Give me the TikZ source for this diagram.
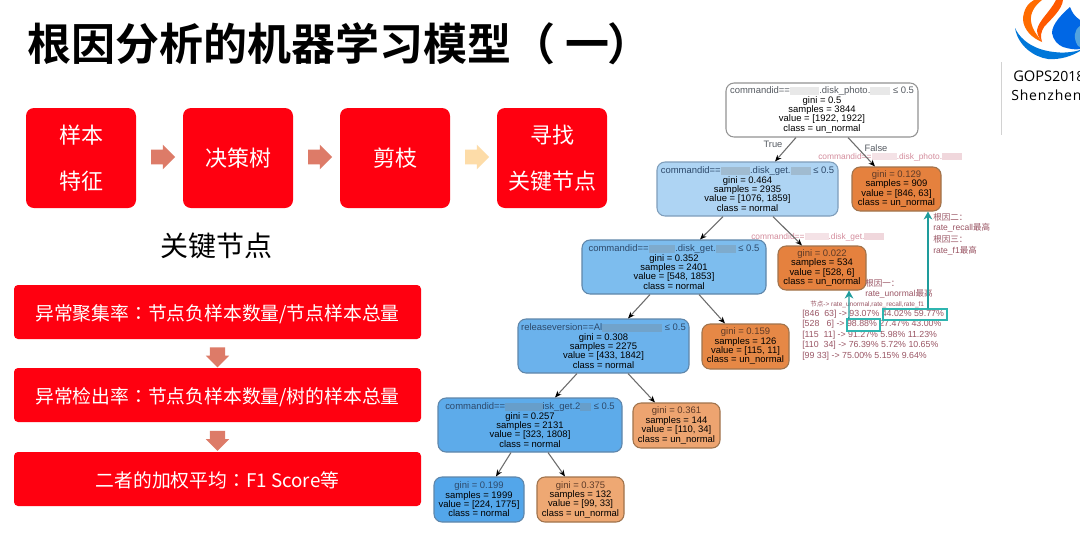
\documentclass[tikz,border=0pt]{standalone}
\usepackage{fontspec}
\setmainfont{Liberation Sans}
\newfontfamily\cjk{Noto Sans CJK SC}
\newfontfamily\cjktc{Noto Sans CJK TC}
\newfontfamily\cjkb{Noto Sans CJK SC}[BoldFont={Noto Sans CJK SC Bold}]
\newfontfamily\logofont{Open Sans}
\newfontfamily\logowide{Open Sans}[LetterSpace=6]
\usetikzlibrary{calc,arrows.meta,shapes.arrows}
\definecolor{redbox}{HTML}{FF0010}
\definecolor{arrowred}{HTML}{DD7B68}
\definecolor{arrowpale}{HTML}{FDDCA8}
\definecolor{blueink}{HTML}{2E4A6B}
\definecolor{orangeink}{HTML}{5E3B28}
\definecolor{whiteink}{HTML}{565B62}
\definecolor{annot}{HTML}{9A5564}
\definecolor{annotpale}{HTML}{D48C9C}
\definecolor{tealbox}{HTML}{2FB5B0}
\definecolor{tealarrow}{HTML}{1E9C9C}
\definecolor{fillA}{HTML}{AED4F3}
\definecolor{fillB}{HTML}{7DBDEE}
\definecolor{fillC}{HTML}{6BB2EC}
\definecolor{fillD}{HTML}{5DABEA}
\definecolor{fillE}{HTML}{53A6EA}
\definecolor{orangeA}{HTML}{E5813E}
\definecolor{orangeB}{HTML}{E68846}
\definecolor{orangeC}{HTML}{EDA470}
\definecolor{orangeD}{HTML}{EEA873}
\definecolor{edgeblue}{HTML}{5F86AA}
\definecolor{edgeorange}{HTML}{A0734C}
\newcommand{\smudge}[2]{\textcolor{#2}{\rule[-0.1em]{#1}{0.85em}}}
\tikzset{
  x=0.75pt,y=-0.75pt,
  redstep/.style={fill=redbox,rounded corners=6pt,text=white,align=center,inner sep=0pt,
     minimum width=82.5pt,minimum height=75pt,font=\cjk\fontsize{16.5}{34.5}\selectfont},
  redbar/.style={fill=redbox,rounded corners=3pt,text=white,align=center,inner sep=0pt,
     minimum width=305.25pt,minimum height=40.5pt,text height=13pt,text depth=0pt,
     font=\cjk\fontsize{14.1}{16}\selectfont},
  treebox/.style={draw=#1,line width=0.8pt,rounded corners=6pt,inner sep=0pt,align=center,
     font=\fontsize{7.1}{7}\selectfont},
  edge/.style={draw=gray!85!black,line width=0.8pt,-{Stealth[length=5pt,width=4pt,black]}},
  annotline/.style={anchor=west,inner sep=0pt,text=annot,font=\fontsize{6.6}{7}\selectfont},
  annotcjk/.style={anchor=west,inner sep=0pt,text=annot,font=\fontsize{6.4}{7}\selectfont},
  annotpink/.style={anchor=west,inner sep=0pt,text=annotpale,font=\fontsize{6.3}{7}\selectfont},
  edgelabel/.style={inner sep=0pt,text=whiteink,font=\fontsize{7}{7}\selectfont},
  tealframe/.style={draw=tealbox,line width=0.9pt,inner sep=0pt},
  tealup/.style={draw=tealarrow,-{Stealth[length=6pt,width=6.5pt]}},
  flowarrow/.style={single arrow,draw=none,fill=#1,inner sep=0pt,minimum height=18pt,
     single arrow head extend=3.75pt,single arrow head indent=0pt},
  downarrow/.style={single arrow,draw=none,fill=arrowred,inner sep=0pt,minimum height=15pt,
     rotate=-90,single arrow head extend=3pt,single arrow head indent=0pt},
}
\newcommand{\boxat}[8]{% name, x1, y1, x2, y2, fill, border, text
  \node[treebox=#7,fill=#6,minimum width={(#4-#2)*0.75pt},minimum height={(#5-#3)*0.75pt}]
     (#1) at ({(#2+#4)/2},{(#3+#5)/2}) {#8};}
\newcommand{\treeedge}[4]{\draw[edge] ([xshift=#2*0.75pt]#1.south) -- ([xshift=#4*0.75pt]#3.north);}
\begin{document}
\begin{tikzpicture}
\useasboundingbox[fill=white] (0,0) rectangle (1080,536);
% title
\node[anchor=west,inner sep=0pt,font=\cjkb\bfseries\fontsize{33}{36}\selectfont] (title) at (27,44) {根因分析的机器学习模型（ 一 \kern-9pt）};
% logo
\fill[orange!85!red] (1023,20) .. controls (1023,10) and (1028,3) .. (1034,0) -- (1042,0)
   .. controls (1034,6) and (1030,14) .. (1031,21) .. controls (1032,30) and (1038,36) .. (1042,42)
   .. controls (1032,38) and (1024,30) .. (1023,20) -- cycle;
\fill[orange!70!red] (1037,30) .. controls (1039,20) and (1050,12) .. (1056,0) -- (1063,0)
   .. controls (1062,10) and (1050,20) .. (1044,27) .. controls (1041,32) and (1040,36) .. (1042,42)
   .. controls (1039,38) and (1037,34) .. (1037,30) -- cycle;
\fill[blue!55!cyan!90!black] (1070,7) .. controls (1062,14) and (1052,24) .. (1052,33)
   .. controls (1053,40) and (1058,45) .. (1063,47) .. controls (1070,49) and (1075,50) .. (1080,49)
   -- (1080,20) .. controls (1074,16) and (1072,12) .. (1070,7) -- cycle;
\fill[cyan!70!blue!70!white] (1080,26) .. controls (1074,30) and (1073,38) .. (1078,46) -- (1080,47) -- cycle;
\fill[blue!45!cyan!85!black] (1015,28) .. controls (1018,46) and (1034,57) .. (1048,59)
   .. controls (1060,60) and (1072,56) .. (1080,51) -- (1080,50)
   .. controls (1068,54) and (1052,53) .. (1040,49) .. controls (1028,45) and (1019,37) .. (1015,28) -- cycle;
\draw[gray!35,line width=0.7pt] (1001,62) -- (1001,135);
\node[anchor=west,inner sep=0pt,font=\logofont\fontsize{11}{12}\selectfont] (gops) at (1013,76) {GOPS\fontsize{10.5}{12}\selectfont 2018};
\node[anchor=west,inner sep=0pt,font=\logowide\fontsize{10.5}{12}\selectfont] (szh) at (1011,95) {Shenzhen};
% top flow
\node[redstep] (s1) at (81,158) {样本\\特征};
\node[redstep] (s2) at (238,158) {决策树};
\node[redstep] (s3) at (395,158) {剪枝};
\node[redstep] (s4) at (552,158) {寻找\\关键节点};
\node[flowarrow=arrowred,yshift=0.75pt] (a1) at ($(s1.east)!0.5!(s2.west)$) {\rule{0pt}{10.5pt}};
\node[flowarrow=arrowred,yshift=0.75pt] (a2) at ($(s2.east)!0.5!(s3.west)$) {\rule{0pt}{10.5pt}};
\node[flowarrow=arrowpale,yshift=0.75pt] (a3) at ($(s3.east)!0.5!(s4.west)$) {\rule{0pt}{10.5pt}};
\node[inner sep=0pt,font=\cjk\fontsize{21}{24}\selectfont] (kn) at (216.5,246) {关键节点};
% lower bars
\node[redbar] (b1) at (217.5,312) {异常聚集率{\cjktc ：}节点负样本数量/节点样本总量};
\node[redbar] (b2) at (217.5,395) {异常检出率{\cjktc ：}节点负样本数量/树的样本总量};
\node[redbar] (b3) at (217.5,479) {二者的加权平均{\cjktc ：}F1 Score等};
\node[downarrow] (d1) at ($(b1.south)!0.5!(b2.north)$) {\rule{0pt}{11pt}};
\node[downarrow] (d2) at ($(b2.south)!0.5!(b3.north)$) {\rule{0pt}{11pt}};
% annotations behind the tree
\node[annotpink] (pk1) at (818,157) {commandid==\smudge{19pt}{annotpale!25}.disk\_photo.\smudge{15pt}{annotpale!35}};
\node[annotpink] (pk2) at (751,237) {commandid==\smudge{18pt}{annotpale!25}.disk\_get.\smudge{15pt}{annotpale!35}};
% tree
\boxat{root}{726}{83}{918}{137}{white}{gray!85}{\color{whiteink}commandid==\smudge{22pt}{gray!18}.disk\_photo.\smudge{15pt}{gray!18} ≤ 0.5\\gini = 0.5\\samples = 3844\\value = [1922, 1922]\\class = un\_normal}
\boxat{n1}{657}{162}{838}{216}{fillA}{edgeblue!80}{\color{blueink}commandid==\smudge{22pt}{fillA!70!gray}.disk\_get.\smudge{15pt}{fillA!70!gray} ≤ 0.5\\gini = 0.464\\samples = 2935\\value = [1076, 1859]\\class = normal}
\boxat{o1}{852}{167}{941}{211}{orangeA}{edgeorange}{\color{orangeink}gini = 0.129\\samples = 909\\value = [846, 63]\\class = un\_normal}
\boxat{n2}{582}{240}{766}{294}{fillB}{edgeblue}{\color{blueink}commandid==\smudge{20pt}{fillB!70!gray}.disk\_get.\smudge{15pt}{fillB!70!gray} ≤ 0.5\\gini = 0.352\\samples = 2401\\value = [548, 1853]\\class = normal}
\boxat{o2}{778}{246}{866}{290}{orangeA}{edgeorange}{\color{orangeink}gini = 0.022\\samples = 534\\value = [528, 6]\\class = un\_normal}
\boxat{n3}{518}{319}{689}{373}{fillC}{edgeblue}{\color{blueink}releaseversion==Al\smudge{45pt}{fillC!70!gray} ≤ 0.5\\gini = 0.308\\samples = 2275\\value = [433, 1842]\\class = normal}
\boxat{o3}{702}{324}{789}{369}{orangeB}{edgeorange}{\color{orangeink}gini = 0.159\\samples = 126\\value = [115, 11]\\class = un\_normal}
\boxat{n4}{438}{398}{622}{452}{fillD}{edgeblue}{\color{blueink}commandid==\smudge{28pt}{fillD!70!gray}isk\_get.2\smudge{8pt}{fillD!70!gray} ≤ 0.5\\gini = 0.257\\samples = 2131\\value = [323, 1808]\\class = normal}
\boxat{o4}{633}{403}{720}{448}{orangeC}{edgeorange}{\color{orangeink}gini = 0.361\\samples = 144\\value = [110, 34]\\class = un\_normal}
\boxat{l1}{434}{477}{524}{522}{fillE}{edgeblue}{\color{blueink}gini = 0.199\\samples = 1999\\value = [224, 1775]\\class = normal}
\boxat{l2}{537}{477}{624}{522}{orangeD}{edgeorange}{\color{orangeink}gini = 0.375\\samples = 132\\value = [99, 33]\\class = un\_normal}
% tree edges
\treeedge{root}{-26}{n1}{27.5}
\treeedge{root}{26}{o1}{-21.5}
\treeedge{n1}{-24.5}{n2}{26}
\treeedge{n1}{25.5}{o2}{-20}
\treeedge{n2}{-24}{n3}{24.5}
\treeedge{n2}{25}{o3}{-20.5}
\treeedge{n3}{-26.5}{n4}{25}
\treeedge{n3}{24.5}{o4}{-21.5}
\treeedge{n4}{-19}{l1}{17}
\treeedge{n4}{18}{l2}{-15.5}
\node[edgelabel] (tl) at (773,144) {True};
\node[edgelabel] (fl) at (876,148) {False};
% root-cause notes
\node[annotcjk] (r2a) at (933,217) {{\cjk 根因二：}};
\node[annotcjk] (r2b) at (933,228) {rate\_recall{\cjk 最高}};
\node[annotcjk] (r3a) at (933,239) {{\cjk 根因三：}};
\node[annotcjk] (r3b) at (933,251) {rate\_f1{\cjk 最高}};
\node[annotcjk] (r1a) at (865,283) {{\cjk 根因一：}};
\node[annotcjk] (r1b) at (865,294) {rate\_unormal{\cjk 最高}};
\node[annotline,font=\fontsize{4.9}{6}\selectfont] (hdr) at (810,304) {{\cjk 节点}-> rate\_unormal,rate\_recall,rate\_f1};
\node[annotline] (row1) at (802,314) {[846\ \ 63] -> 93.07\% 44.02\% 59.77\%};
\node[annotline] (row2) at (802,324.5) {[528\ \ \ 6] -> 98.88\% 27.47\% 43.00\%};
\node[annotline] (row3) at (802,335) {[115\ \ 11] -> 91.27\% 5.98\% 11.23\%};
\node[annotline] (row4) at (802,345) {[110\ \ 34] -> 76.39\% 5.72\% 10.65\%};
\node[annotline] (row5) at (802,356) {[99 33] -> 75.00\% 5.15\% 9.64\%};
\node[tealframe,minimum width=48pt,minimum height=8.25pt] (fr1) at (915,314.5) {};
\node[tealframe,minimum width=24.75pt,minimum height=9pt] (fr2) at (863.5,325) {};
\draw[tealup,line width=1.1pt] ([xshift=-10.9pt]fr2.north) -- (o2.south -| {849,0});
\draw[tealup,line width=1.3pt] ([xshift=9.75pt]fr1.north) -- ([xshift=23.6pt]o1.south);
\end{tikzpicture}
\end{document}
